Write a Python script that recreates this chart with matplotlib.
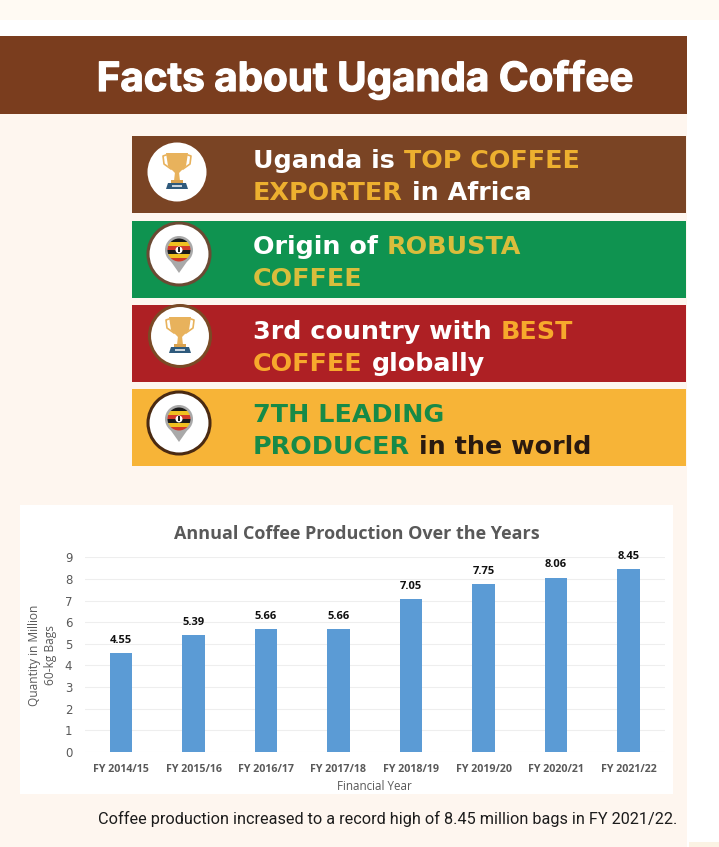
import matplotlib
matplotlib.use("Agg")
import matplotlib.pyplot as plt
import matplotlib.patheffects as pe
from matplotlib.patches import Rectangle, Circle, Polygon

years = ["FY 2014/15", "FY 2015/16", "FY 2016/17", "FY 2017/18",
         "FY 2018/19", "FY 2019/20", "FY 2020/21", "FY 2021/22"]
production = [4.55, 5.39, 5.66, 5.66, 7.05, 7.75, 8.06, 8.45]
y_ticks = [0, 1, 2, 3, 4, 5, 6, 7, 8, 9]

WHITE = "#ffffff"
GOLD = "#edb02f"
facts = [
    ("#7a4424", [[("Uganda is ", WHITE), ("TOP COFFEE", GOLD)],
                 [("EXPORTER", GOLD), (" in Africa", WHITE)]]),
    ("#0f9350", [[("Origin of ", WHITE), ("ROBUSTA", "#d9bd3c")],
                 [("COFFEE", "#d9bd3c")]]),
    ("#ae2024", [[("3rd country with ", WHITE), ("BEST", "#f7a92c")],
                 [("COFFEE", "#f7a92c"), (" globally", WHITE)]]),
    ("#f7b437", [[("7TH LEADING", "#178a47")],
                 [("PRODUCER", "#178a47"), (" in the world", "#2a1a10")]]),
]

W, H = 719, 847
PAGE = "#fef6ef"
fig = plt.figure(figsize=(W / 100, H / 100), dpi=100, facecolor="white")

# full figure axes in pixel coords for the infographic part
bg = fig.add_axes([0, 0, 1, 1])
bg.set_xlim(0, W)
bg.set_ylim(H, 0)
bg.axis("off")


def rect(x0, y0, x1, y1, color, z=1):
    bg.add_patch(Rectangle((x0, y0), x1 - x0, y1 - y0, fc=color, ec="none", zorder=z))


def text_width(s, size):
    # the x on both sides keeps spaces at the ends from being dropped
    r = fig.canvas.get_renderer()
    m = bg.text(0, 0, "x" + s + "x", fontsize=size, fontweight="bold", family="DejaVu Sans")
    w = m.get_window_extent(r).width
    m.set_text("xx")
    w -= m.get_window_extent(r).width
    m.remove()
    return w


def colored_line(x, y, parts, size):
    # draw text pieces one after the other
    for s, c in parts:
        bg.text(x + (text_width(" ", size) if s[0] == " " else 0), y, s.strip(),
                color=c, fontsize=size, fontweight="bold", family="DejaVu Sans",
                va="baseline", ha="left", zorder=5)
        x += text_width(s, size)


def trophy(cx, cy):
    gold = "#e8b25c"
    bg.add_patch(Polygon([(cx - 11, cy - 19), (cx + 11, cy - 19), (cx + 9, cy - 6),
                          (cx + 2, cy + 1), (cx - 2, cy + 1), (cx - 9, cy - 6)],
                         fc=gold, ec="none", zorder=4))
    for sx in (-1, 1):
        bg.plot([cx + sx * 11, cx + sx * 14, cx + sx * 13, cx + sx * 6],
                [cy - 17, cy - 16, cy - 8, cy - 3], color=gold, lw=1.2, zorder=4)
    bg.add_patch(Polygon([(cx - 2, cy), (cx + 2, cy), (cx + 3, cy + 9), (cx - 3, cy + 9)],
                         fc=gold, ec="none", zorder=4))
    rect(cx - 6, cy + 8, cx + 6, cy + 11, "#d9a24f", 4)
    bg.add_patch(Polygon([(cx - 9, cy + 11), (cx + 9, cy + 11), (cx + 11, cy + 17), (cx - 11, cy + 17)],
                         fc="#2f5a7c", ec="none", zorder=4))
    rect(cx - 5, cy + 13, cx + 5, cy + 15, "#c8d3dc", 5)


def pin(cx, cy):
    bg.add_patch(Polygon([(cx - 12, cy + 6), (cx + 12, cy + 6), (cx, cy + 23)],
                         fc="#a9a9a9", ec="none", zorder=4))
    bg.add_patch(Circle((cx, cy), 14, fc="#a9a9a9", ec="none", zorder=4))
    clip = Circle((cx, cy), 11.5, transform=bg.transData)
    colors = ["#1a1a1a", "#f0c020", "#d23a2a", "#1a1a1a", "#f0c020", "#d23a2a"]
    for i, c in enumerate(colors):
        r = Rectangle((cx - 12, cy - 12 + i * 4), 24, 4, fc=c, ec="none", zorder=5)
        bg.add_patch(r)
        r.set_clip_path(clip)
    bg.add_patch(Circle((cx, cy), 3.5, fc=WHITE, ec="none", zorder=6))
    rect(cx - 1, cy - 2.5, cx + 1, cy + 2.5, "#222222", 7)


# page background
rect(0, 0, W, 20, "#fffaf3", 0)
rect(0, 114, 687, H, PAGE, 0)
rect(689, 842, W, H, "#fbf3e4", 0)

# heading banner
rect(0, 36, 687, 114, "#7a3d1e")
bg.text(365, 80, "Facts about Uganda Coffee", color=WHITE, fontsize=29, fontweight="bold",
        family="Inter", ha="center", va="center", zorder=5,
        path_effects=[pe.withStroke(linewidth=0.9, foreground=WHITE)])

# fact bands
tops = [136, 221, 305, 389]
baselines = [(168, 200), (254, 286), (339, 371), (422, 454)]
icon_c = [(177, 172), (179, 254), (180, 336), (179, 423)]
icon_r = [29.5, 31, 30.5, 31]
icon_e = [None, "#6b4a33", "#7a4a25", "#4a2a12"]
for i, (band, lines) in enumerate(facts):
    rect(132, tops[i], 686, tops[i] + 77, band)
    cx, cy = icon_c[i]
    bg.add_patch(Circle((cx, cy), icon_r[i], fc=WHITE, ec=icon_e[i] or "none", lw=2.2, zorder=3))
    if i % 2 == 0:
        trophy(cx, cy)
    else:
        pin(cx, cy - 4)
    for j, parts in enumerate(lines):
        colored_line(253, baselines[i][j], parts, 18.3)

# chart card
rect(20, 505, 673, 794, WHITE)
bg.text(357, 534, "Annual Coffee Production Over the Years", color="#595959", fontsize=13,
        fontweight="bold", family="Open Sans", ha="center", va="center", zorder=5)
bg.text(388, 819, "Coffee production increased to a record high of 8.45 million bags in FY 2021/22.",
        color="#1c1c1c", fontsize=11.7, family="Roboto", ha="center", va="center", zorder=5)

# bar chart
x0, x1, y_top, y_bot = 84.75, 664.75, 557.3, 751.7
ax = fig.add_axes([x0 / W, 1 - y_bot / H, (x1 - x0) / W, (y_bot - y_top) / H])
ax.patch.set_alpha(0)
pos = range(len(years))
ax.bar(pos, production, width=0.31, color="#5b9bd5", zorder=3)
for p, v in zip(pos, production):
    ax.text(p, v + 0.33, f"{v:.2f}", ha="center", va="bottom", fontsize=8, fontweight="bold",
            family="Open Sans", color="#111111")
ax.set_xlim(-0.5, 7.5)
ax.set_ylim(0, 9)
ax.set_yticks(y_ticks)
ax.set_xticks(list(pos))
ax.set_xticklabels(years, fontsize=7.7, fontweight="bold", family="Open Sans", color="#595959")
ax.tick_params(axis="y", length=0, labelsize=8.5, labelcolor="#595959", pad=9)
ax.tick_params(axis="x", length=0, pad=9)
ax.grid(axis="y", color="#eeeeee", lw=0.8, zorder=0)
for s in ax.spines.values():
    s.set_visible(False)
bg.text(374, 786, "Financial Year", ha="center", va="center", fontsize=8.4, family="Open Sans",
        color="#595959", zorder=5)
bg.text(42.5, 655, "Quantity in Million\n60-kg Bags", rotation=90, ha="center", va="center",
        fontsize=8.6, family="Open Sans", color="#595959", linespacing=1.35, zorder=5)

fig.savefig("out.png", dpi=100, facecolor="white")
